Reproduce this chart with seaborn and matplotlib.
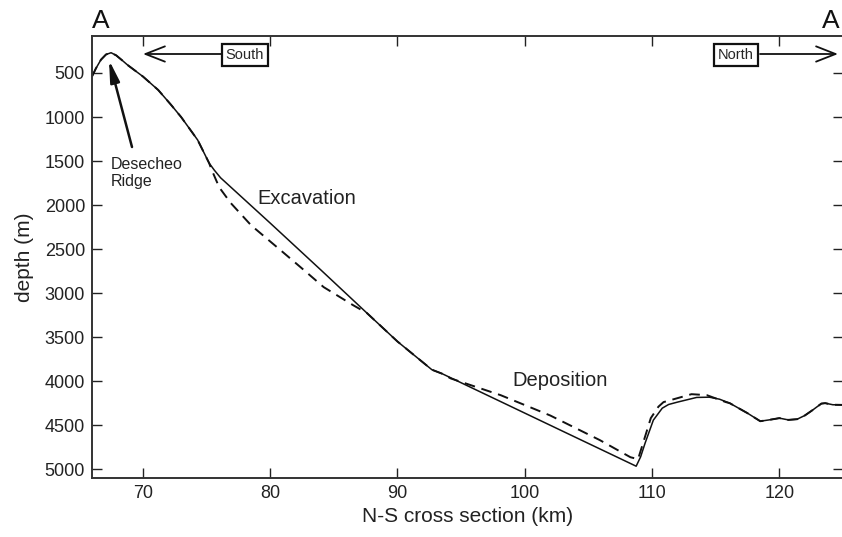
import numpy as np
import pandas as pd
import matplotlib
matplotlib.use("Agg")
import matplotlib.pyplot as plt
import seaborn as sns

# ---- data ----
present_km = [66.0, 66.3, 66.7, 67.1, 67.5, 67.9, 68.4, 68.8, 70.0, 71.2, 72.2, 73.0, 74.3, 75.2,
              75.6, 76.1, 80.0, 84.0, 87.6, 90.0, 92.7, 93.5, 98.0, 103.0, 108.75,
              109.1, 109.45, 110.1, 110.8, 111.3, 112.0, 113.5, 114.5, 115.3, 116.1,
              117.5, 118.5, 119.2, 120.0, 120.7, 121.4, 122.0, 122.6, 123.3, 123.6,
              124.2, 125.0]
present_depth = [540, 450, 350, 290, 270, 300, 360, 410, 540, 693, 860, 1000, 1261, 1523,
                 1602, 1690, 2205, 2740, 3227, 3550, 3870, 3915, 4225, 4570, 4966,
                 4860, 4705, 4443, 4307, 4265, 4238, 4185, 4182, 4205, 4250,
                 4364, 4455, 4440, 4420, 4440, 4432, 4390, 4330, 4255, 4250,
                 4268, 4270]

model_km = [66.0, 66.3, 66.7, 67.1, 67.5, 67.9, 68.4, 68.8, 70.0, 71.2, 72.2, 73.0, 74.3, 75.2,
            75.4, 76.0, 76.9, 78.5, 80.8, 82.5, 84.2, 86.5, 87.6, 90.0, 92.7, 93.5,
            94.2, 98.1, 102.0, 105.9, 108.3, 108.9, 109.3, 109.9, 110.5, 110.9,
            113.1, 114.3, 115.8, 116.1, 117.5, 118.5, 119.2, 120.0, 120.7, 121.4,
            122.0, 122.6, 123.3, 123.6, 124.2, 125.0]
model_depth = [540, 450, 350, 290, 270, 300, 360, 410, 540, 693, 860, 1000, 1261, 1523,
               1600, 1800, 1977, 2230, 2511, 2720, 2932, 3136, 3227, 3550, 3870, 3915,
               3970, 4159, 4390, 4670, 4864, 4886, 4700, 4420, 4290, 4238,
               4148, 4159, 4238, 4250, 4364, 4455, 4440, 4420, 4440, 4432,
               4390, 4330, 4255, 4250, 4268, 4270]

x_ticks = [70, 80, 90, 100, 110, 120]
y_ticks = [500, 1000, 1500, 2000, 2500, 3000, 3500, 4000, 4500, 5000]

df_present = pd.DataFrame({"km": present_km, "depth": present_depth})
df_model = pd.DataFrame({"km": model_km, "depth": model_depth})

# ---- style ----
sns.set_style("ticks")
plt.rcParams["font.family"] = ["Liberation Sans", "DejaVu Sans"]
plt.rcParams["xtick.direction"] = "in"
plt.rcParams["ytick.direction"] = "in"

W, H = 842, 537
fig = plt.figure(figsize=(W / 100, H / 100), dpi=100)
L, R, T, B = 92, 843, 36, 478
ax = fig.add_axes([L / W, 1 - B / H, (R - L) / W, (B - T) / H])

sns.lineplot(data=df_model, x="km", y="depth", ax=ax, color="#111111", lw=1.4,
             sort=False, estimator=None, linestyle=(0, (5.5, 3.5)))
sns.lineplot(data=df_present, x="km", y="depth", ax=ax, color="#111111", lw=1.1,
             sort=False, estimator=None)

ax.set_xlim(66, 125.0)
ax.set_ylim(5100, 80)
ax.set_xticks(x_ticks)
ax.set_yticks(y_ticks)
ax.tick_params(axis="both", which="both", direction="in", length=7, width=1.0,
               top=True, right=True, labelsize=13, colors="#222222", pad=5)
for s in ax.spines.values():
    s.set_linewidth(1.4)
    s.set_color("#333333")
ax.set_xlabel("N-S cross section (km)", fontsize=15, color="#222222", labelpad=4)
ax.set_ylabel("depth (m)", fontsize=15, color="#222222", labelpad=8)


def fx(px):
    return (px - L) / (R - L)


def fy(py):
    return (B - py) / (B - T)


# section end letters
fig.text(L / W, 1 - 28 / H, "A", fontsize=19, ha="left", va="baseline", color="#111111")
fig.text(840 / W, 1 - 28 / H, "A", fontsize=19, ha="right", va="baseline", color="#111111")

box = dict(boxstyle="square,pad=0.28", fc="white", ec="#111111", lw=1.6)
ax.text(fx(245), fy(55), "South", fontsize=10.5, ha="center", va="center",
        bbox=box, transform=ax.transAxes, clip_on=False)
ax.text(fx(736), fy(55), "North", fontsize=10.5, ha="center", va="center",
        bbox=box, transform=ax.transAxes, clip_on=False)
arrow_open = dict(arrowstyle="->,head_length=1.4,head_width=0.55", lw=1.3,
                  color="#111111", shrinkA=0, shrinkB=0)
ax.annotate("", xy=(fx(143), fy(54)), xytext=(fx(222), fy(54)),
            xycoords="axes fraction", textcoords="axes fraction", arrowprops=arrow_open)
ax.annotate("", xy=(fx(838), fy(54)), xytext=(fx(760), fy(54)),
            xycoords="axes fraction", textcoords="axes fraction", arrowprops=arrow_open)

ax.annotate("", xy=(fx(109), fy(60)), xytext=(fx(132), fy(147)),
            xycoords="axes fraction", textcoords="axes fraction",
            arrowprops=dict(arrowstyle="-|>,head_length=1.3,head_width=0.28", lw=1.8,
                            color="#111111", shrinkA=0, shrinkB=0))
ax.text(fx(111), fy(157), "Desecheo\nRidge", fontsize=11.5, ha="left", va="top",
        transform=ax.transAxes, color="#222222", linespacing=1.15)

ax.text(fx(257), fy(198), "Excavation", fontsize=14.5, ha="left", va="center",
        transform=ax.transAxes, color="#222222")
ax.text(fx(512), fy(380), "Deposition", fontsize=14.5, ha="left", va="center",
        transform=ax.transAxes, color="#222222")

fig.savefig("out.png", dpi=100)
